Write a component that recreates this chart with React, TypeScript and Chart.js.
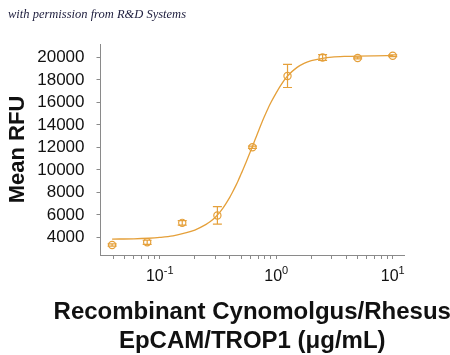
import React, { useEffect, useRef } from "react";
import { Chart, registerables } from "chart.js";

Chart.register(...registerables);

const doses = [0.039, 0.078, 0.156, 0.3125, 0.625, 1.25, 2.5, 5, 10];
const meanRFU = [3320, 3560, 5290, 5950, 12020, 18360, 20000, 19950, 20150];
const errRFU = [100, 180, 200, 780, 100, 1030, 250, 80, 80];

const curveDose = [0.039, 0.06, 0.08, 0.1, 0.13, 0.16, 0.2, 0.25, 0.27, 0.3, 0.33, 0.35, 0.37, 0.4, 0.42, 0.45, 0.47, 0.5, 0.52, 0.55, 0.58, 0.62, 0.66, 0.7, 0.75, 0.8, 0.85, 0.9, 1.0, 1.1, 1.25, 1.5, 1.75, 2.0, 2.5, 3, 4, 5, 7, 10];
const curveRFU = [3850, 3870, 3920, 3990, 4130, 4350, 4650, 5150, 5380, 5790, 6270, 6620, 7000, 7580, 7990, 8600, 9020, 9650, 10050, 10660, 11250, 12000, 12720, 13400, 14180, 14860, 15470, 15990, 16850, 17560, 18350, 19100, 19500, 19720, 19930, 20030, 20100, 20130, 20150, 20160];

const yTicks = [4000, 6000, 8000, 10000, 12000, 14000, 16000, 18000, 20000];
const xMinorTicks = [0.04, 0.05, 0.06, 0.07, 0.08, 0.09, 0.1, 0.2, 0.3, 0.4, 0.5, 0.6, 0.7, 0.8, 0.9, 1, 2, 3, 4, 5, 6, 7, 8, 9, 10];
const xLabelValues = [0.1, 1, 10];
const xLabelExps = ["-1", "0", "1"];

const noteText = "with permission from R&D Systems";
const xTitleLines = ["Recombinant Cynomolgus/Rhesus", "EpCAM/TROP1 (\u03bcg/mL)"];
const yTitle = "Mean RFU";

const ORANGE = "#E5A03A";
const AXIS = "#8a8a8a";

const errorBarPlugin = {
  id: "errorBars",
  afterDatasetsDraw(chart: any) {
    const { ctx } = chart;
    const xs = chart.scales.x;
    const ys = chart.scales.y;
    ctx.save();
    ctx.strokeStyle = ORANGE;
    ctx.lineWidth = 1.2;
    doses.forEach((d, i) => {
      const x = xs.getPixelForValue(d);
      const yTop = ys.getPixelForValue(meanRFU[i] + errRFU[i]);
      const yBot = ys.getPixelForValue(meanRFU[i] - errRFU[i]);
      const cap = 4.5;
      ctx.beginPath();
      ctx.moveTo(x, yTop);
      ctx.lineTo(x, yBot);
      ctx.moveTo(x - cap, yTop);
      ctx.lineTo(x + cap, yTop);
      ctx.moveTo(x - cap, yBot);
      ctx.lineTo(x + cap, yBot);
      ctx.stroke();
    });
    ctx.restore();
  },
};

const textPlugin = {
  id: "customText",
  afterDraw(chart: any) {
    const { ctx, chartArea } = chart;
    const xs = chart.scales.x;
    ctx.save();
    ctx.fillStyle = "#1c1c3c";
    ctx.font = 'italic 12.5px "Liberation Serif"';
    ctx.textAlign = "left";
    ctx.textBaseline = "alphabetic";
    ctx.fillText(noteText, 8, 18);
    ctx.fillStyle = "#111";
    xLabelValues.forEach((v, i) => {
      const px = xs.getPixelForValue(v);
      ctx.font = '16px "Liberation Sans"';
      const wBase = ctx.measureText("10").width;
      ctx.font = '11px "Liberation Sans"';
      const wExp = ctx.measureText(xLabelExps[i]).width;
      const start = px - (wBase + wExp) / 2;
      ctx.font = '16px "Liberation Sans"';
      ctx.fillText("10", start, 281);
      ctx.font = '11px "Liberation Sans"';
      ctx.fillText(xLabelExps[i], start + wBase, 274);
    });
    ctx.font = 'bold 24px "Liberation Sans"';
    ctx.textAlign = "center";
    const cx = (chartArea.left + chartArea.right) / 2;
    ctx.fillText(xTitleLines[0], cx, 319);
    ctx.fillText(xTitleLines[1], cx, 348);
    ctx.restore();
  },
};

export default function App() {
  const canvasRef = useRef<HTMLCanvasElement | null>(null);

  useEffect(() => {
    document.body.style.margin = "0";
    const canvas = canvasRef.current;
    if (!canvas) return;
    const chart = new Chart(canvas, {
      type: "line",
      data: {
        datasets: [
          {
            label: "fit",
            data: curveDose.map((d, i) => ({ x: d, y: curveRFU[i] })),
            borderColor: ORANGE,
            borderWidth: 1.3,
            pointRadius: 0,
            cubicInterpolationMode: "monotone",
            fill: false,
          },
          {
            label: "data",
            data: doses.map((d, i) => ({ x: d, y: meanRFU[i] })),
            showLine: false,
            borderColor: ORANGE,
            backgroundColor: "rgba(255,255,255,0)",
            pointRadius: 3.6,
            pointBorderWidth: 1.2,
            pointStyle: "circle",
          },
        ],
      },
      options: {
        animation: false,
        responsive: false,
        maintainAspectRatio: false,
        layout: { padding: { top: 44, right: 46, left: 0, bottom: 0 } },
        plugins: { legend: { display: false }, tooltip: { enabled: false }, title: { display: false } },
        scales: {
          x: {
            type: "logarithmic",
            min: 0.031,
            max: 12.5,
            afterBuildTicks: (s: any) => {
              s.ticks = xMinorTicks.map((v) => ({ value: v }));
            },
            afterFit: (s: any) => {
              s.height = 100;
            },
            ticks: { autoSkip: false, callback: () => "", font: { size: 1 }, padding: 0 },
            grid: { drawOnChartArea: false, drawTicks: true, tickLength: 4, color: AXIS, lineWidth: 1 },
            border: { display: true, color: AXIS, width: 1 },
          },
          y: {
            type: "linear",
            min: 2430,
            max: 21200,
            afterBuildTicks: (s: any) => {
              s.ticks = yTicks.map((v) => ({ value: v }));
            },
            afterFit: (s: any) => {
              s.width = 100.5;
            },
            ticks: {
              autoSkip: false,
              color: "#111",
              padding: 12,
              font: { family: "Liberation Sans", size: 17 },
              callback: (v: any) => String(v),
            },
            grid: { drawOnChartArea: false, drawTicks: true, tickLength: 4, color: AXIS, lineWidth: 1 },
            border: { display: true, color: AXIS, width: 1 },
            title: {
              display: true,
              text: yTitle,
              color: "#111",
              font: { family: "Liberation Sans", size: 22, weight: "bold" },
              padding: { top: 5, bottom: 0 },
            },
          },
        },
      },
      plugins: [errorBarPlugin, textPlugin],
    } as any);
    return () => chart.destroy();
  }, []);

  return (
    <div style={{ position: "absolute", left: 0, top: 0, width: 450, height: 355 }}>
      <canvas ref={canvasRef} width={450} height={355} style={{ width: 450, height: 355 }} />
    </div>
  );
}
